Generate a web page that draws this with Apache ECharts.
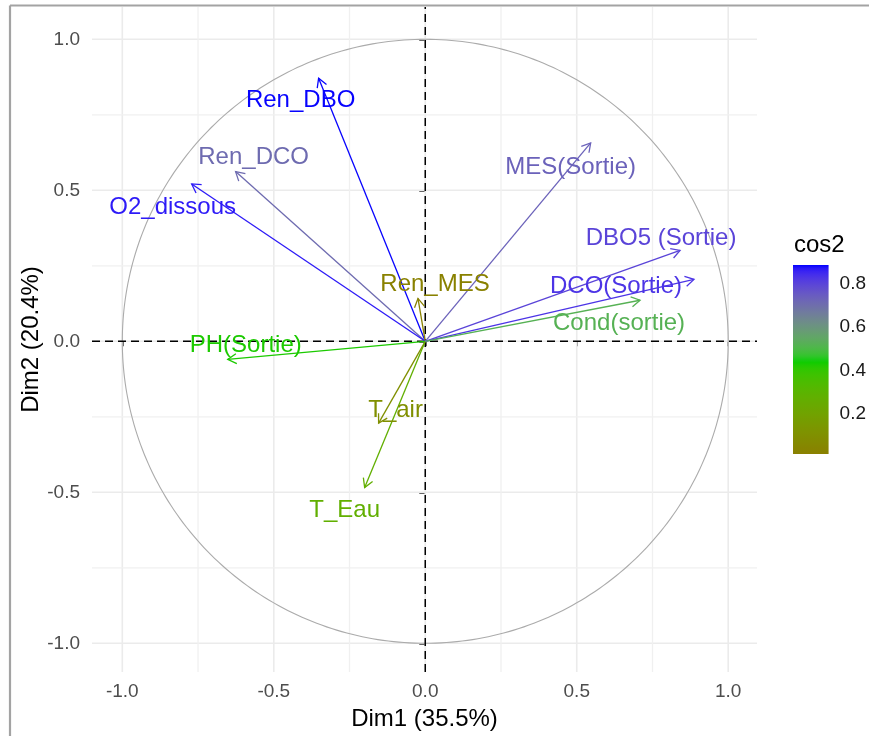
<!DOCTYPE html>
<html><head><meta charset="utf-8">
<script src="https://cdn.jsdelivr.net/npm/echarts@6/dist/echarts.min.js"></script>
<style>html,body{margin:0;padding:0;background:#fff}#c{width:869px;height:736px}</style>
</head><body><div id="c"></div>
<script>
// ---------- data ----------
const variables = ['Ren_DBO','Ren_DCO','O2_dissous','Ren_MES','PH(Sortie)','T_air','T_Eau','MES(Sortie)','DBO5 (Sortie)','DCO(Sortie)','Cond(sortie)'];
const dim1 = [-0.352,-0.626,-0.771,-0.024,-0.652,-0.154,-0.200,0.546,0.841,0.887,0.709];
const dim2 = [0.871,0.562,0.521,0.142,-0.060,-0.271,-0.484,0.657,0.301,0.205,0.136];
const cos2Range = [0.017, 0.884];
const cos2Mid = 0.443;
const axisTicks = [-1,-0.5,0,0.5,1];
const minorTicks = [-0.75,-0.25,0.25,0.75];
const legendTicks = [0.2,0.4,0.6,0.8];
const xTitle = 'Dim1 (35.5%)';
const yTitle = 'Dim2 (20.4%)';
const legendTitle = 'cos2';

// ---------- style ----------
const labelNudge = [[-18,22],[18,-14],[-19,23],[17,-14],[18,-14],[17,-13],[-20,23],[-20,24],[-19,-12],[-78,7],[-21,23]];
const xMin=-1.1, xMax=1.095, yMin=-1.095, yMax=1.107;
const FONT = '"Liberation Sans", Arial, sans-serif';
const lowC='#8B7D00', midC='#00CD00', highC='#0000FF';

function hexToRgb(h){h=h.replace('#','');return [0,2,4].map(k=>parseInt(h.substr(k,2),16));}
function s2l(c){c/=255;return c<=0.04045?c/12.92:Math.pow((c+0.055)/1.055,2.4);}
function l2s(c){const v=c<=0.0031308?12.92*c:1.055*Math.pow(c,1/2.4)-0.055;return Math.round(Math.max(0,Math.min(1,v))*255);}
function rgbToLab(rgb){const R=s2l(rgb[0]),G=s2l(rgb[1]),B=s2l(rgb[2]);
  const X=(0.4124564*R+0.3575761*G+0.1804375*B)/0.95047;
  const Y=(0.2126729*R+0.7151522*G+0.0721750*B);
  const Z=(0.0193339*R+0.1191920*G+0.9503041*B)/1.08883;
  const f=t=>t>0.008856?Math.cbrt(t):(7.787*t+16/116);
  const fx=f(X),fy=f(Y),fz=f(Z);
  return [116*fy-16,500*(fx-fy),200*(fy-fz)];}
function labToRgb(lab){const fy=(lab[0]+16)/116,fx=fy+lab[1]/500,fz=fy-lab[2]/200;
  const fi=t=>t>0.206893?t*t*t:(t-16/116)/7.787;
  const X=fi(fx)*0.95047,Y=fi(fy),Z=fi(fz)*1.08883;
  const R=3.2404542*X-1.5371385*Y-0.4985314*Z;
  const G=-0.9692660*X+1.8760108*Y+0.0415560*Z;
  const B=0.0556434*X-0.2040259*Y+1.0572252*Z;
  return [l2s(R),l2s(G),l2s(B)];}
const LAB=[lowC,midC,highC].map(c=>rgbToLab(hexToRgb(c)));
function cos2Color(v){
  const span=Math.max(cos2Mid-cos2Range[0],cos2Range[1]-cos2Mid);
  let t=0.5+(v-cos2Mid)/(2*span); t=Math.max(0,Math.min(1,t));
  let a,b,u; if(t<0.5){a=LAB[0];b=LAB[1];u=t*2;}else{a=LAB[1];b=LAB[2];u=(t-0.5)*2;}
  const lab=[0,1,2].map(k=>a[k]+(b[k]-a[k])*u);
  const c=labToRgb(lab); return 'rgb('+c.join(',')+')';
}
const fmt = v => Number(v).toFixed(1);

const chart = echarts.init(document.getElementById('c'), null, {renderer:'canvas'});
const gridData = axisTicks.map(v=>[v,1]).concat(minorTicks.map(v=>[v,0]));
const arrowData = variables.map((n,i)=>[dim1[i],dim2[i],i]);

const legendStops = [];
for(let k=0;k<=60;k++){const v=cos2Range[1]-k/60*(cos2Range[1]-cos2Range[0]);legendStops.push({offset:k/60,color:cos2Color(v)});}

const option = {
  backgroundColor:'#fff',
  animation:false,
  textStyle:{fontFamily:FONT},
  grid:[{left:92,top:7,width:665,height:666},{left:793,top:265,width:38,height:189}],
  xAxis:[
    {type:'value',gridIndex:0,min:xMin,max:xMax,
     axisLine:{show:false},splitLine:{show:false},
     axisTick:{show:true,customValues:axisTicks,length:5,lineStyle:{color:'#333',width:1.5}},
     axisLabel:{customValues:axisTicks,formatter:fmt,color:'#4D4D4D',fontSize:19,margin:10,fontFamily:FONT},
     name:xTitle,nameLocation:'middle',nameGap:35,nameMoveOverlap:false,nameTextStyle:{fontSize:24,color:'#000',fontFamily:FONT}},
    {type:'value',gridIndex:1,min:0,max:1,show:false}
  ],
  yAxis:[
    {type:'value',gridIndex:0,min:yMin,max:yMax,
     axisLine:{show:false},splitLine:{show:false},
     axisTick:{show:true,customValues:axisTicks,length:6,lineStyle:{color:'#333',width:1.5}},
     axisLabel:{customValues:axisTicks,formatter:fmt,color:'#4D4D4D',fontSize:19,margin:12,fontFamily:FONT},
     name:yTitle,nameLocation:'middle',nameRotate:90,nameGap:49,nameMoveOverlap:false,nameTextStyle:{fontSize:24,color:'#000',fontFamily:FONT}},
    {type:'value',gridIndex:1,min:cos2Range[0],max:cos2Range[1],position:'left',
     axisLine:{show:false},splitLine:{show:false},
     axisTick:{show:true,inside:true,customValues:legendTicks,length:7,lineStyle:{color:'#fff',width:1.5}},
     axisLabel:{show:false}},
    {type:'value',gridIndex:1,min:cos2Range[0],max:cos2Range[1],position:'right',
     axisLine:{show:false},splitLine:{show:false},
     axisTick:{show:true,inside:true,customValues:legendTicks,length:7,lineStyle:{color:'#fff',width:1.5}},
     axisLabel:{customValues:legendTicks,formatter:fmt,color:'#1A1A1A',fontSize:19,margin:11,fontFamily:FONT}}
  ],
  graphic:[
    {type:'line',shape:{x1:10,y1:5.5,x2:869,y2:5.5},style:{stroke:'#A3A3A3',lineWidth:2.2},z:100},
    {type:'line',shape:{x1:10,y1:5.5,x2:10,y2:736},style:{stroke:'#A3A3A3',lineWidth:2.2},z:100},
    {type:'text',left:794,top:233,style:{text:legendTitle,fontSize:24,fill:'#000',fontFamily:FONT}}
  ],
  series:[
    {type:'custom',name:'grid',xAxisIndex:0,yAxisIndex:0,z:1,silent:true,data:gridData,
     renderItem:(params,api)=>{
       const v=api.value(0),major=api.value(1)===1;
       const a=api.coord([v,yMin]),b=api.coord([v,yMax]),c=api.coord([xMin,v]),d=api.coord([xMax,v]);
       const style={stroke:major?'#EBEBEB':'#F0F0F0',lineWidth:major?1.6:1.3};
       return {type:'group',children:[
         {type:'line',shape:{x1:a[0],y1:a[1],x2:b[0],y2:b[1]},style:style},
         {type:'line',shape:{x1:c[0],y1:c[1],x2:d[0],y2:d[1]},style:style}]};
     }},
    {type:'custom',name:'circle',xAxisIndex:0,yAxisIndex:0,z:2,silent:true,data:[[0,0]],
     renderItem:(params,api)=>{
       const pts=[];
       for(let k=0;k<=360;k++){const t=k*Math.PI/180;pts.push(api.coord([Math.cos(t),Math.sin(t)]));}
       return {type:'polyline',shape:{points:pts},style:{stroke:'#ABABAB',lineWidth:1.1,fill:null}};
     }},
    {type:'custom',name:'zero',xAxisIndex:0,yAxisIndex:0,z:3,silent:true,data:[[0,0]],
     renderItem:(params,api)=>{
       const a=api.coord([0,yMin]),b=api.coord([0,yMax]),c=api.coord([xMin,0]),d=api.coord([xMax,0]);
       const style={stroke:'#000',lineWidth:1.5,lineDash:[8,5]};
       return {type:'group',children:[
         {type:'line',shape:{x1:a[0],y1:a[1],x2:b[0],y2:b[1]},style:style},
         {type:'line',shape:{x1:c[0],y1:c[1],x2:d[0],y2:d[1]},style:style}]};
     }},
    {type:'custom',name:'arrows',xAxisIndex:0,yAxisIndex:0,z:4,silent:true,data:arrowData,
     renderItem:(params,api)=>{
       const x=api.value(0),y=api.value(1);
       const o=api.coord([0,0]),p=api.coord([x,y]);
       const col=cos2Color(x*x+y*y);
       const ang=Math.atan2(p[1]-o[1],p[0]-o[0]);
       const L=10,A=Math.PI/6;
       const h1=[p[0]-L*Math.cos(ang-A),p[1]-L*Math.sin(ang-A)];
       const h2=[p[0]-L*Math.cos(ang+A),p[1]-L*Math.sin(ang+A)];
       return {type:'group',children:[
         {type:'line',shape:{x1:o[0],y1:o[1],x2:p[0],y2:p[1]},style:{stroke:col,lineWidth:1.3}},
         {type:'polyline',shape:{points:[h1,p,h2]},style:{stroke:col,lineWidth:1.3,fill:null}}]};
     }},
    {type:'custom',name:'labels',xAxisIndex:0,yAxisIndex:0,z:5,silent:true,data:arrowData,
     renderItem:(params,api)=>{
       const x=api.value(0),y=api.value(1),i=api.value(2);
       const p=api.coord([x,y]);
       const col=cos2Color(x*x+y*y);
       return {type:'text',x:p[0]+labelNudge[i][0],y:p[1]+labelNudge[i][1],
         style:{text:variables[i],fill:col,fontSize:24,fontFamily:FONT,align:'center',verticalAlign:'middle'}};
     }},
    {type:'custom',name:'colorbar',xAxisIndex:1,yAxisIndex:1,z:2,silent:true,data:[[0.5,0.5]],
     renderItem:(params,api)=>{
       const tl=api.coord([0,cos2Range[1]]),br=api.coord([1,cos2Range[0]]);
       return {type:'rect',shape:{x:tl[0],y:tl[1],width:br[0]-tl[0],height:br[1]-tl[1]},
         style:{fill:new echarts.graphic.LinearGradient(0,0,0,1,legendStops)}};
     }}
  ]
};
chart.setOption(option);
</script></body></html>
